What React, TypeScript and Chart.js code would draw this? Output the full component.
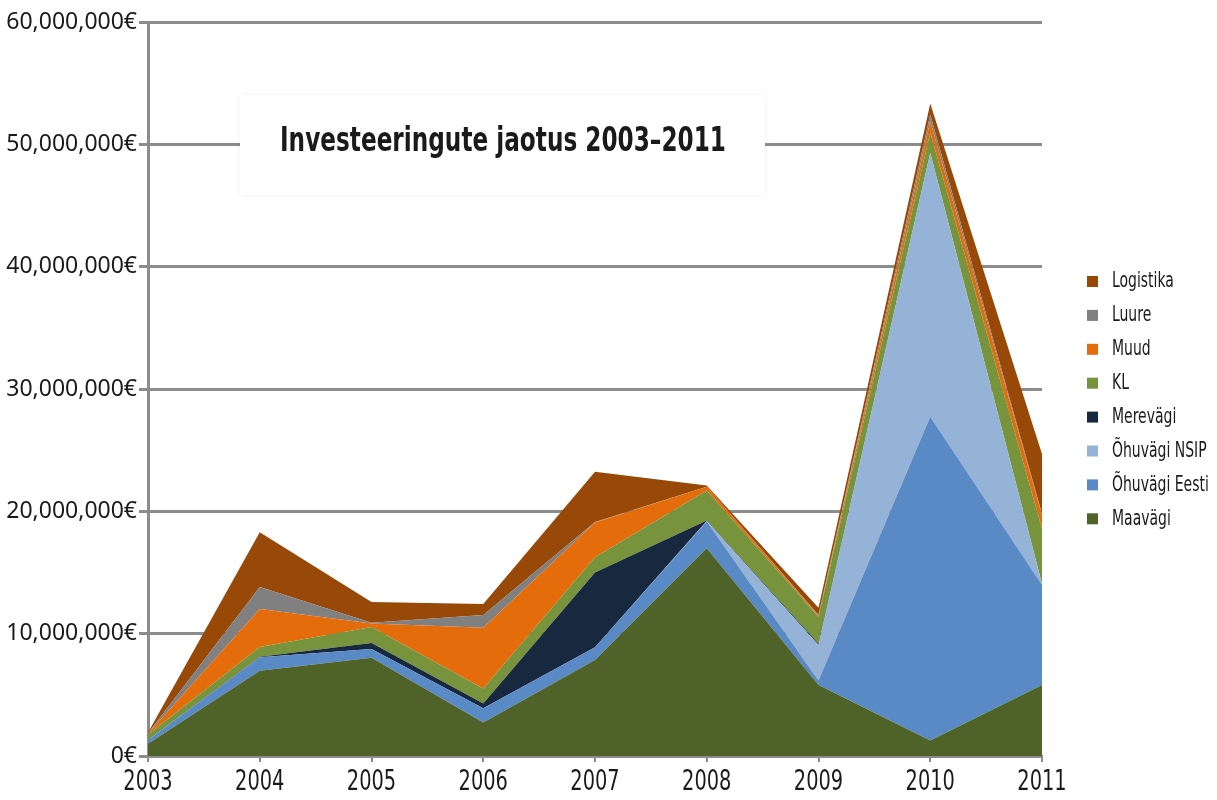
import React, { useEffect, useRef } from "react";
import { Chart, registerables } from "chart.js";

Chart.register(...registerables);

const years = ["2003", "2004", "2005", "2006", "2007", "2008", "2009", "2010", "2011"];
const maavagi = [1000000, 6970000, 8040000, 2730000, 7850000, 16980000, 5800000, 1260000, 5800000];
const ohuvagiEesti = [300000, 1100000, 700000, 1170000, 1040000, 2180000, 370000, 26470000, 8180000];
const ohuvagiNSIP = [0, 0, 0, 0, 0, 50000, 2900000, 21560000, 100000];
const merevagi = [0, 50000, 500000, 400000, 6100000, 50000, 100000, 0, 0];
const kl = [450000, 800000, 1300000, 1220000, 1250000, 2450000, 2200000, 1670000, 4500000];
const muud = [80000, 3100000, 300000, 4960000, 2840000, 300000, 100000, 930000, 1100000];
const luure = [30000, 1800000, 50000, 1040000, 50000, 0, 50000, 550000, 100000];
const logistika = [60000, 4460000, 1700000, 900000, 4100000, 100000, 600000, 900000, 4900000];

const seriesNames = ["Maavägi", "Õhuvägi Eesti", "Õhuvägi NSIP", "Merevägi", "KL", "Muud", "Luure", "Logistika"];
const seriesValues = [maavagi, ohuvagiEesti, ohuvagiNSIP, merevagi, kl, muud, luure, logistika];
const seriesColors = ["#4f6228", "#5a8ac6", "#95b3d7", "#17283f", "#77933c", "#e46c0a", "#808080", "#984807"];

const titleText = "Investeeringute jaotus 2003–2011";
const yMax = 60000000;
const yStep = 10000000;

const CONDENSED = '"DejaVu Sans Condensed", "DejaVu Sans", sans-serif';

function drawNarrow(ctx: any, text: string, x: number, y: number, sx: number, align: string) {
  ctx.save();
  ctx.translate(x, y);
  ctx.scale(sx, 1);
  ctx.textAlign = align;
  ctx.fillText(text, 0, 0);
  ctx.restore();
}

const titlePlugin = {
  id: "titleBox",
  beforeDatasetsDraw(chart: any) {
    const ctx = chart.ctx;
    ctx.save();
    ctx.shadowColor = "rgba(0,0,0,0.06)";
    ctx.shadowBlur = 6;
    ctx.fillStyle = "#ffffff";
    ctx.fillRect(240, 95, 525, 100);
    ctx.shadowColor = "transparent";
    ctx.fillStyle = "#1a1a1a";
    ctx.font = `bold 34px ${CONDENSED}`;
    ctx.textBaseline = "middle";
    const w = ctx.measureText(titleText).width;
    drawNarrow(ctx, titleText, 503, 142, 446 / w, "center");
    ctx.restore();
  },
};

const xLabelPlugin = {
  id: "xLabels",
  afterDraw(chart: any) {
    const ctx = chart.ctx;
    const xs = chart.scales.x;
    ctx.save();
    ctx.fillStyle = "#1a1a1a";
    ctx.font = `28px ${CONDENSED}`;
    ctx.textBaseline = "middle";
    xs.ticks.forEach((t: any, i: number) => {
      const label = chart.data.labels[t.value];
      drawNarrow(ctx, label, xs.getPixelForTick(i), 783, 0.77, "center");
    });
    ctx.restore();
  },
};

const legendPlugin = {
  id: "customLegend",
  afterDraw(chart: any) {
    const ctx = chart.ctx;
    ctx.save();
    const ds = chart.data.datasets;
    ctx.font = `21px ${CONDENSED}`;
    ctx.textBaseline = "middle";
    for (let k = 0; k < ds.length; k++) {
      const d = ds[ds.length - 1 - k];
      const cy = 281 + k * 33.9;
      ctx.fillStyle = d.backgroundColor;
      ctx.fillRect(1087, cy - 5, 11, 11);
      ctx.fillStyle = "#1a1a1a";
      drawNarrow(ctx, d.label, 1112, cy + 1, 0.74, "left");
    }
    ctx.restore();
  },
};

export default function App() {
  const canvasRef = useRef<HTMLCanvasElement | null>(null);

  useEffect(() => {
    if (!canvasRef.current) return;
    const chart = new Chart(canvasRef.current, {
      type: "line",
      data: {
        labels: years,
        datasets: seriesNames.map((name, i) => ({
          label: name,
          data: seriesValues[i],
          backgroundColor: seriesColors[i],
          borderColor: seriesColors[i],
          borderWidth: 0,
          pointRadius: 0,
          fill: i === 0 ? "origin" : "-1",
          tension: 0,
        })),
      },
      options: {
        animation: false,
        responsive: false,
        maintainAspectRatio: false,
        layout: { padding: { top: 22, right: 175, left: 0, bottom: 0 } },
        plugins: { legend: { display: false }, tooltip: { enabled: false }, title: { display: false } },
        elements: { line: { borderWidth: 0 } },
        scales: {
          x: {
            offset: false,
            grid: { display: true, drawOnChartArea: false, color: "#8c8c8c", lineWidth: 2, tickLength: 6 },
            border: { display: true, color: "#8c8c8c", width: 3 },
            ticks: { display: false, maxRotation: 0, autoSkip: false },
            afterFit(scale: any) {
              scale.height = 44;
            },
          },
          y: {
            stacked: true,
            min: 0,
            max: yMax,
            grid: { color: "#8c8c8c", lineWidth: 3, tickLength: 9 },
            border: { display: true, color: "#8c8c8c", width: 3 },
            ticks: {
              stepSize: yStep,
              color: "#1a1a1a",
              font: { family: '"Noto Sans", "Open Sans", sans-serif', size: 23 },
              padding: 2,
              callback: (v: any) => Number(v).toLocaleString("en-US") + "€",
            },
            afterFit(scale: any) {
              scale.width = 148;
            },
          },
        },
      },
      plugins: [titlePlugin, xLabelPlugin, legendPlugin],
    });
    return () => chart.destroy();
  }, []);

  return (
    <div style={{ position: "fixed", left: 0, top: 0, width: 1217, height: 800, background: "#ffffff" }}>
      <canvas ref={canvasRef} width={1217} height={800} style={{ width: 1217, height: 800 }} />
    </div>
  );
}
